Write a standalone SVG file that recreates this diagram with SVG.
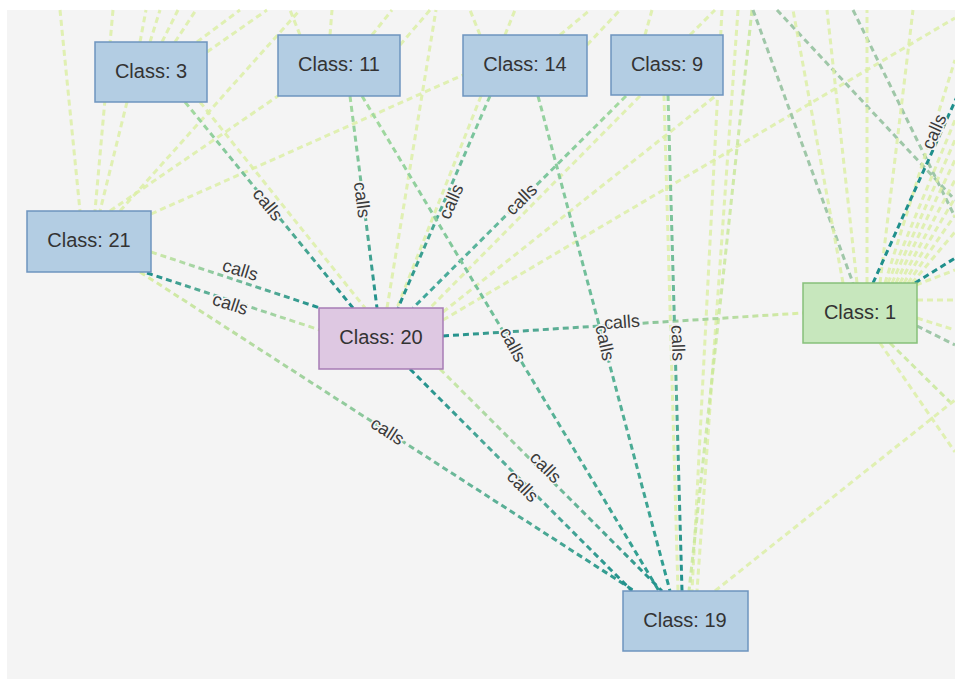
<svg xmlns="http://www.w3.org/2000/svg" width="955" height="679" viewBox="0 0 955 679">
<defs>
<style>
.e{fill:none;stroke-width:3;stroke-dasharray:6 4}
.l{stroke:#dcefa6;opacity:.85}
.l2{stroke:#c8e79a;opacity:.85}
.m{stroke:#8fcca0}
.g{stroke:#9fc7a8}
.d{stroke:#1f8f8c}
.lab{font-family:"Liberation Sans",Arial,sans-serif;font-size:18px;fill:#3a3a3a;text-anchor:middle;stroke:#f4f4f4;stroke-width:3;paint-order:stroke}
.nt{font-family:"Liberation Sans",Arial,sans-serif;font-size:20px;fill:#333;text-anchor:middle}
.nb{fill:#b3cde3;stroke:#6d94bf;stroke-width:1.5}
.np{fill:#dec8e2;stroke:#a77cb5;stroke-width:1.5}
.ng{fill:#c7e7bd;stroke:#86c07a;stroke-width:1.5}
</style>
<linearGradient id="g1" gradientUnits="userSpaceOnUse" x1="185" y1="102" x2="353" y2="308"><stop offset="0" stop-color="#a8dca0"/><stop offset="1" stop-color="#1f8f8c"/></linearGradient>
<linearGradient id="g2" gradientUnits="userSpaceOnUse" x1="350" y1="96" x2="377" y2="308"><stop offset="0" stop-color="#a8dca0"/><stop offset="1" stop-color="#1f8f8c"/></linearGradient>
<linearGradient id="g3" gradientUnits="userSpaceOnUse" x1="490" y1="96" x2="398" y2="308"><stop offset="0" stop-color="#8fd0a0"/><stop offset="1" stop-color="#1f8f8c"/></linearGradient>
<linearGradient id="g4" gradientUnits="userSpaceOnUse" x1="626" y1="96" x2="413" y2="308"><stop offset="0" stop-color="#a8dca0"/><stop offset="1" stop-color="#3aa39a"/></linearGradient>
<linearGradient id="g5" gradientUnits="userSpaceOnUse" x1="151" y1="252" x2="320" y2="308"><stop offset="0" stop-color="#d2ecaa"/><stop offset="1" stop-color="#1f8f8c"/></linearGradient>
<linearGradient id="g6" gradientUnits="userSpaceOnUse" x1="147" y1="273" x2="320" y2="330"><stop offset="0" stop-color="#1f8f8c"/><stop offset="1" stop-color="#d2ecaa"/></linearGradient>
<linearGradient id="g7" gradientUnits="userSpaceOnUse" x1="443" y1="336" x2="803" y2="313"><stop offset="0" stop-color="#1f8f8c"/><stop offset="1" stop-color="#dcefa6"/></linearGradient>
<linearGradient id="g8" gradientUnits="userSpaceOnUse" x1="140" y1="272" x2="633" y2="590"><stop offset="0" stop-color="#dcefa6"/><stop offset="1" stop-color="#2a9890"/></linearGradient>
<linearGradient id="g9" gradientUnits="userSpaceOnUse" x1="410" y1="369" x2="632" y2="591"><stop offset="0" stop-color="#1f8f8c"/><stop offset=".5" stop-color="#5fb39e"/><stop offset="1" stop-color="#1f8f8c"/></linearGradient>
<linearGradient id="g10" gradientUnits="userSpaceOnUse" x1="440" y1="369" x2="662" y2="591"><stop offset="0" stop-color="#d2ecaa"/><stop offset="1" stop-color="#1f8f8c"/></linearGradient>
<linearGradient id="g11" gradientUnits="userSpaceOnUse" x1="362" y1="96" x2="659" y2="591"><stop offset="0" stop-color="#a8dca0"/><stop offset="1" stop-color="#2a9a90"/></linearGradient>
<linearGradient id="g12" gradientUnits="userSpaceOnUse" x1="538" y1="96" x2="670" y2="591"><stop offset="0" stop-color="#9ad4a0"/><stop offset="1" stop-color="#2a9a90"/></linearGradient>
<linearGradient id="g13" gradientUnits="userSpaceOnUse" x1="668" y1="95" x2="682" y2="591"><stop offset="0" stop-color="#9ad4a0"/><stop offset="1" stop-color="#1f8f8c"/></linearGradient>
</defs>
<rect x="0" y="0" width="955" height="679" fill="#ffffff"/>
<rect x="7" y="10" width="948" height="669" fill="#f4f4f4"/>
<g id="connectors">
<line class="e l" x1="113" y1="10" x2="95" y2="211"/>
<line class="e l" x1="127" y1="102" x2="100" y2="211"/>
<line class="e l" x1="140" y1="42" x2="146" y2="10"/>
<line class="e l" x1="150" y1="42" x2="160" y2="10"/>
<line class="e l" x1="162" y1="42" x2="178" y2="10"/>
<line class="e l" x1="175" y1="42" x2="196" y2="10"/>
<line class="e l" x1="197" y1="42" x2="240" y2="10"/>
<line class="e l" x1="207" y1="52" x2="267" y2="10"/>
<line class="e l" x1="110" y1="211" x2="278" y2="96"/>
<line class="e l" x1="151" y1="214" x2="463" y2="75"/>
<line class="e l" x1="120" y1="211" x2="300" y2="10"/>
<line class="e l" x1="60" y1="10" x2="80" y2="211"/>
<line class="e l" x1="300" y1="35" x2="290" y2="10"/>
<line class="e l" x1="330" y1="35" x2="332" y2="10"/>
<line class="e l" x1="372" y1="35" x2="392" y2="10"/>
<line class="e l" x1="400" y1="45" x2="430" y2="10"/>
<line class="e l" x1="480" y1="35" x2="470" y2="10"/>
<line class="e l" x1="505" y1="35" x2="515" y2="10"/>
<line class="e l" x1="560" y1="35" x2="590" y2="10"/>
<line class="e l" x1="587" y1="45" x2="620" y2="10"/>
<line class="e l" x1="645" y1="35" x2="652" y2="10"/>
<line class="e l" x1="690" y1="35" x2="715" y2="10"/>
<line class="e l" x1="200" y1="102" x2="365" y2="308"/>
<line class="e l" x1="481" y1="96" x2="397" y2="308"/>
<line class="e l" x1="387" y1="308" x2="436" y2="10"/>
<line class="e l" x1="640" y1="96" x2="430" y2="308"/>
<line class="e l" x1="443" y1="320" x2="955" y2="18"/>
<line class="e l" x1="443" y1="312" x2="723" y2="90"/>
<line class="e l" x1="664" y1="95" x2="678" y2="591"/>
<line class="e l" x1="722" y1="10" x2="692" y2="591"/>
<line class="e l" x1="738" y1="10" x2="697" y2="591"/>
<line class="e l2" x1="752" y1="10" x2="689" y2="591"/>
<line class="e l" x1="715" y1="591" x2="955" y2="400"/>
<line class="e g" x1="753" y1="10" x2="853" y2="283"/>
<line class="e g" x1="777" y1="10" x2="955" y2="200"/>
<line class="e g" x1="853" y1="10" x2="955" y2="217"/>
<line class="e l" x1="843" y1="283" x2="793" y2="10"/>
<line class="e l" x1="857" y1="283" x2="827" y2="10"/>
<line class="e l" x1="867" y1="283" x2="867" y2="10"/>
<line class="e l" x1="880" y1="283" x2="913" y2="10"/>
<line class="e l" x1="885" y1="283" x2="955" y2="60"/>
<line class="e l" x1="888" y1="283" x2="955" y2="120"/>
<line class="e l" x1="892" y1="283" x2="955" y2="140"/>
<line class="e l" x1="896" y1="283" x2="955" y2="160"/>
<line class="e l" x1="900" y1="283" x2="955" y2="180"/>
<line class="e l" x1="904" y1="283" x2="955" y2="198"/>
<line class="e l" x1="908" y1="283" x2="955" y2="215"/>
<line class="e l" x1="912" y1="283" x2="955" y2="232"/>
<line class="e l" x1="916" y1="285" x2="955" y2="270"/>
<line class="e l" x1="917" y1="300" x2="955" y2="300"/>
<line class="e l" x1="917" y1="318" x2="955" y2="330"/>
<line class="e g" x1="917" y1="326" x2="955" y2="345"/>
<line class="e l" x1="880" y1="343" x2="955" y2="452"/>
<line class="e l2" x1="890" y1="343" x2="950" y2="402"/>
<line class="e" stroke="url(#g1)" x1="185" y1="102" x2="353" y2="308"/>
<line class="e" stroke="url(#g2)" x1="350" y1="96" x2="377" y2="308"/>
<line class="e" stroke="url(#g3)" x1="490" y1="96" x2="398" y2="308"/>
<line class="e" stroke="url(#g4)" x1="626" y1="96" x2="413" y2="308"/>
<line class="e" stroke="url(#g5)" x1="151" y1="252" x2="320" y2="308"/>
<line class="e" stroke="url(#g6)" x1="147" y1="273" x2="320" y2="330"/>
<line class="e" stroke="url(#g7)" x1="443" y1="336" x2="803" y2="313"/>
<line class="e" stroke="url(#g8)" x1="140" y1="272" x2="633" y2="590"/>
<line class="e" stroke="url(#g9)" x1="410" y1="369" x2="632" y2="591"/>
<line class="e" stroke="url(#g10)" x1="440" y1="369" x2="662" y2="591"/>
<line class="e" stroke="url(#g11)" x1="362" y1="96" x2="659" y2="591"/>
<line class="e" stroke="url(#g12)" x1="538" y1="96" x2="670" y2="591"/>
<line class="e" stroke="url(#g13)" x1="668" y1="95" x2="682" y2="591"/>
<line class="e d" x1="873" y1="283" x2="960" y2="90"/>
<line class="e d" x1="915" y1="283" x2="960" y2="255"/>
<text class="lab" transform="translate(267,205) rotate(51)" dy="5">calls</text>
<text class="lab" transform="translate(361,200) rotate(83)" dy="5">calls</text>
<text class="lab" transform="translate(452,202) rotate(-66)" dy="5">calls</text>
<text class="lab" transform="translate(522,200) rotate(-45)" dy="5">calls</text>
<text class="lab" transform="translate(240,271) rotate(17)" dy="5">calls</text>
<text class="lab" transform="translate(230,305) rotate(18)" dy="5">calls</text>
<text class="lab" transform="translate(622,323) rotate(-4)" dy="5">calls</text>
<text class="lab" transform="translate(387,432) rotate(33)" dy="5">calls</text>
<text class="lab" transform="translate(522,487) rotate(45)" dy="5">calls</text>
<text class="lab" transform="translate(545,468) rotate(45)" dy="5">calls</text>
<text class="lab" transform="translate(512,345) rotate(62)" dy="5">calls</text>
<text class="lab" transform="translate(604,343) rotate(78)" dy="5">calls</text>
<text class="lab" transform="translate(677,343) rotate(88)" dy="5">calls</text>
<text class="lab" transform="translate(935,132) rotate(-66)" dy="5">calls</text>
</g>
<g id="node-3"><rect class="nb" x="95" y="42" width="112" height="60"/><text class="nt" x="151" y="78">Class: 3</text></g>
<g id="node-11"><rect class="nb" x="278" y="35" width="122" height="61"/><text class="nt" x="339" y="71">Class: 11</text></g>
<g id="node-14"><rect class="nb" x="463" y="35" width="124" height="61"/><text class="nt" x="525" y="71">Class: 14</text></g>
<g id="node-9"><rect class="nb" x="611" y="35" width="112" height="60"/><text class="nt" x="667" y="71">Class: 9</text></g>
<g id="node-21"><rect class="nb" x="27" y="211" width="124" height="61"/><text class="nt" x="89" y="247">Class: 21</text></g>
<g id="node-20"><rect class="np" x="319" y="308" width="124" height="61"/><text class="nt" x="381" y="344">Class: 20</text></g>
<g id="node-1"><rect class="ng" x="803" y="283" width="114" height="60"/><text class="nt" x="860" y="319">Class: 1</text></g>
<g id="node-19"><rect class="nb" x="623" y="591" width="125" height="60"/><text class="nt" x="685" y="627">Class: 19</text></g>
</svg>
